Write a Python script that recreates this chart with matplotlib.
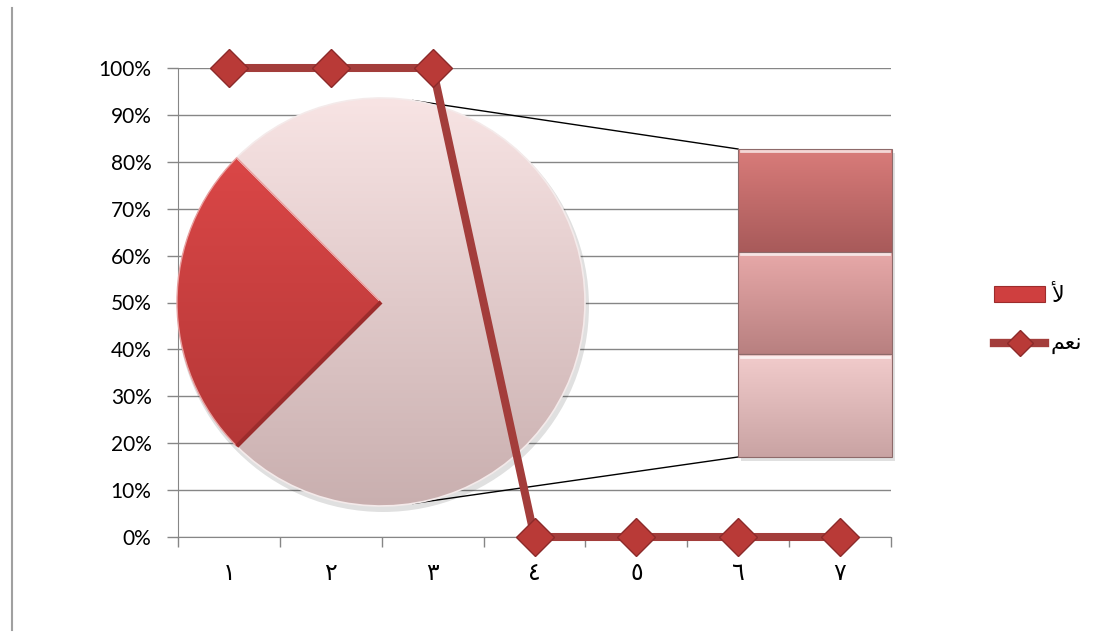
import numpy as np
import matplotlib.pyplot as plt
from matplotlib.patches import Wedge, Rectangle, Circle
from matplotlib.lines import Line2D
from matplotlib.colors import to_rgb

plt.rcParams['font.family'] = ['Lato', 'DejaVu Sans']

# Datos
categorias = ['١', '٢', '٣', '٤', '٥', '٦', '٧']
valores_si = [1, 1, 1, 0, 0, 0, 0]   # نعم
valores_no = [0, 0, 0, 1, 1, 1, 1]   # لأ
etiqueta_si = '\uFEE2\uFECC\uFEE7'   # نعم (formas de presentación, orden visual)
etiqueta_no = '\uFEF7'               # لأ
n_barra = 3                          # últimos puntos que van a la barra (pie of bar)
marcas_y = np.arange(0, 1.01, 0.1)

W, H = 1094, 639
fig = plt.figure(figsize=(W / 100, H / 100), dpi=100)


def rect_px(l, t, r, b):
    return [l / W, 1 - b / H, (r - l) / W, (b - t) / H]


gris = '#868686'

# Ejes principales (rejilla y etiquetas)
pos = rect_px(178, 68, 891, 537)
ax = fig.add_axes(pos, zorder=1)
x = np.arange(1, len(categorias) + 1)
ax.set_xlim(0.5, len(categorias) + 0.5)
ax.set_ylim(0, 1)
ax.set_yticks(marcas_y)
ax.set_yticklabels([f'{int(round(v * 100))}%' for v in marcas_y], fontsize=15)
ax.set_xticks(x)
ax.set_xticklabels(categorias, fontsize=17)
ax.set_xticks(np.arange(0.5, len(categorias) + 1, 1), minor=True)
ax.tick_params(axis='x', which='major', length=0, pad=19)
ax.tick_params(axis='x', which='minor', length=7, color=gris, width=1)
ax.tick_params(axis='y', length=8, color=gris, width=1, pad=11)
ax.yaxis.grid(True, color=gris, lw=1)
ax.set_axisbelow(True)
for s in ['top', 'right']:
    ax.spines[s].set_visible(False)
ax.spines['left'].set_color(gris)
ax.spines['bottom'].set_color(gris)

# Capa del pastel (coordenadas en pixeles, y hacia arriba)
pa = fig.add_axes([0, 0, 1, 1], zorder=2)
pa.set_axis_off()
pa.patch.set_alpha(0)


def relleno(patch, c_arriba, c_abajo, y_arriba, y_abajo, x0, x1):
    pa.add_patch(patch)
    g = np.linspace(0, 1, 256)[:, None, None]
    img = (1 - g) * np.array(to_rgb(c_arriba)) + g * np.array(to_rgb(c_abajo))
    im = pa.imshow(img, extent=(x0, x1, y_abajo, y_arriba), origin='upper',
                   aspect='auto', zorder=patch.get_zorder() - 0.05)
    im.set_clip_path(patch)


cx, cy, R = 381, H - 302, 204
pa.add_patch(Circle((cx + 2, cy - 4), R + 2, color='black', alpha=0.12, lw=0, zorder=1))

principal = valores_no[:-n_barra]
barra = valores_no[-n_barra:]
total = sum(principal) + sum(barra)
ang_otro = sum(barra) / total * 180

w_otro = Wedge((cx, cy), R, -ang_otro, ang_otro, fc='none', ec='#f4eaea', lw=1.2, zorder=3)
relleno(w_otro, '#f8e4e4', '#c9afaf', cy + R, cy - R, cx - R, cx + R)

ang = ang_otro
for v in principal:
    if v <= 0:
        continue
    a2 = ang + v / total * 360
    w = Wedge((cx, cy), R, ang, a2, fc='none', ec='#e8a0a0', lw=1.0, zorder=3)
    relleno(w, '#e24a4a', '#ad3434', cy + R, cy - R, cx - R, cx + R)
    # borde inferior oscuro
    t = np.deg2rad(a2)
    pa.plot([cx, cx + R * np.cos(t)], [cy, cy + R * np.sin(t)], color='#9c2c2c', lw=3,
            zorder=3.5, solid_capstyle='butt')
    ang = a2

# Barra apilada
bl, br, bt, bb = 738, 892, H - 149, H - 457
escala = (bt - bb) / sum(barra)
colores = [('#f2cccc', '#c9a3a3'), ('#e8a9a9', '#b88080'), ('#d97c7a', '#a85a5a')]
y0 = bb
for v, (c1, c2) in zip(barra, colores):
    h = v * escala
    pa.add_patch(Rectangle((bl + 3, y0 - 4), br - bl, h, color='black', alpha=0.12, lw=0, zorder=1))
    r = Rectangle((bl, y0), br - bl, h, fc='none', ec='#8e6a6a', lw=0.8, zorder=3)
    relleno(r, c1, c2, y0 + h, y0, bl, br)
    pa.plot([bl + 3, br - 3], [y0 + h - 2.5, y0 + h - 2.5], color='white', alpha=0.7, lw=2, zorder=3.5)
    y0 += h

# Lineas conectoras
for s, yb in [(1, bt), (-1, bb)]:
    t = np.deg2rad(81 * s)
    pa.plot([cx + R * np.cos(t), bl], [cy + R * np.sin(t), yb], color='black', lw=1, zorder=0.5)

pa.set_xlim(0, W)
pa.set_ylim(0, H)

# Linea "نعم"
la = fig.add_axes(pos, zorder=3)
la.set_axis_off()
la.patch.set_alpha(0)
la.set_xlim(ax.get_xlim())
la.set_ylim(0, 1)
la.plot(x, valores_si, color='#a33d3b', lw=5.8, marker='D', ms=19,
        mfc='#b93a37', mec='#8c2a2a', mew=1, clip_on=False)

# Leyenda
h_no = Rectangle((0, 0), 1, 1, fc='#cf3f3f', ec='#9c2c2c', lw=0.8)
h_si = Line2D([], [], color='#a33d3b', lw=6, marker='D', ms=13, mfc='#b93a37', mec='#8c2a2a')
fig.legend(handles=[h_no, h_si], labels=[etiqueta_no, etiqueta_si], loc='center left',
           bbox_to_anchor=(983 / W, 1 - 320 / H), frameon=False, fontsize=16,
           handlelength=2.3, labelspacing=1.3, handletextpad=0.25, borderpad=0)

# Borde vertical a la izquierda
fig.add_artist(Line2D([12 / W, 12 / W], [1 - 8 / H, 1 - 630 / H], color='#a0a0a0', lw=1.5,
                      transform=fig.transFigure))

fig.savefig('out.png', dpi=100)
